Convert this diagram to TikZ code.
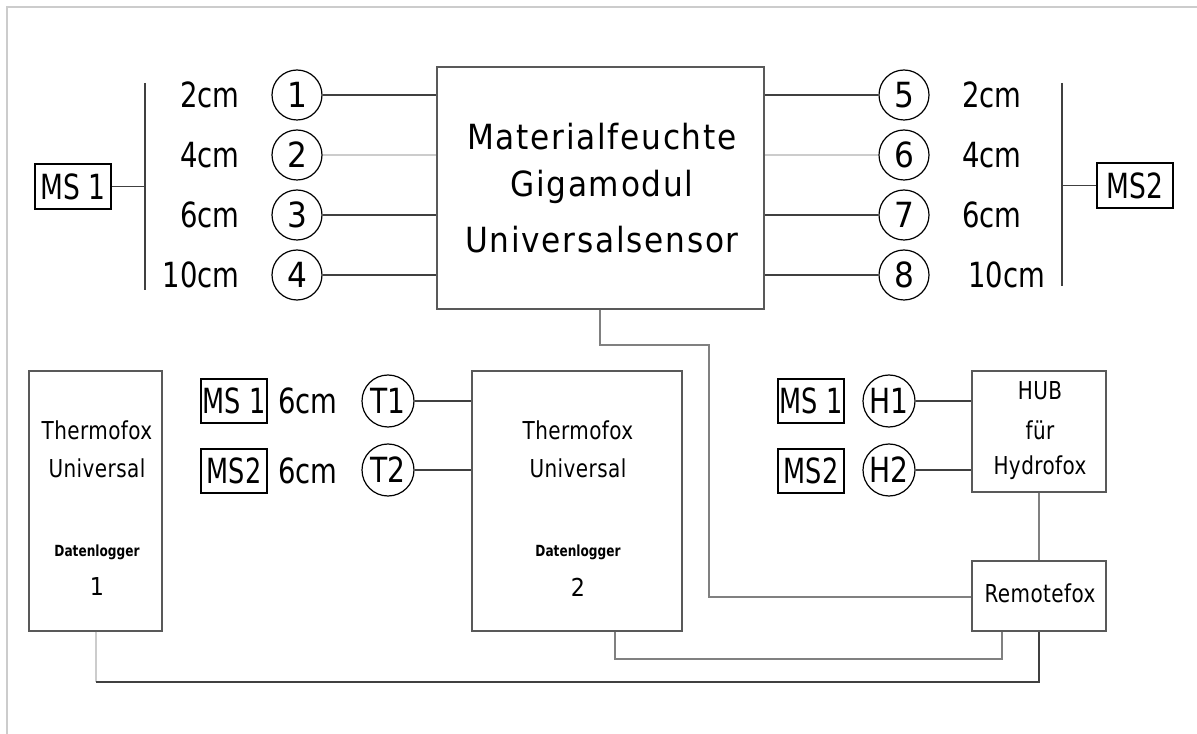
\documentclass[tikz,border=0pt]{standalone}
\usepackage{fontspec}
\usepackage{graphicx}
\setmainfont{DejaVu Sans Condensed}
\newcommand\sq[2][0.85]{\scalebox{#1}[1]{#2}}
\begin{document}
\begin{tikzpicture}[x=0.75pt,y=-0.75pt,
  big/.style={font=\fontsize{26}{30}\selectfont, inner sep=0pt},
  wide/.style={font=\fontsize{26}{30}\selectfont\addfontfeature{LetterSpace=5}, inner sep=0pt},
  mid/.style={font=\fontsize{18.5}{22}\selectfont\addfontfeature{LetterSpace=2}, inner sep=0pt},
  tiny/.style={font=\bfseries\fontsize{11.5}{13}\selectfont, inner sep=0pt},
  num/.style={circle, draw=black, line width=0.9pt, minimum size=37.5pt, inner sep=0pt, font=\fontsize{26}{30}\selectfont},
  tnum/.style={circle, draw=black, line width=0.9pt, minimum size=39pt, inner sep=0pt, font=\fontsize{26}{30}\selectfont},
  msbox/.style={draw=black, line width=1.1pt, minimum width=57pt, minimum height=33.75pt, inner sep=0pt, font=\fontsize{26}{30}\selectfont},
  msboxs/.style={draw=black, line width=1.1pt, minimum width=49.5pt, minimum height=33pt, inner sep=0pt, font=\fontsize{26}{30}\selectfont},
  box/.style={draw=black!65, line width=0.8pt, inner sep=0pt},
  wire/.style={draw=black!75, line width=0.8pt},
  lwire/.style={draw=black!20, line width=0.8pt},
  gwire/.style={draw=black!50, line width=0.8pt}
]
\useasboundingbox (0,0) rectangle (1197,734);
\draw[black!20, line width=0.8pt] (7,734) -- (7,7) -- (1197,7);

% main box
\node[box, minimum width=245.25pt, minimum height=181.5pt] (main) at (600.5,188) {};
\node[wide] (t1) at (602,137) {Materialfeuchte};
\node[wide] (t2) at (602,187) {Gigamodul};
\node[wide] (t3) at (602,240) {Universalsensor};

% left sensors
\node[msbox] (msL) at (73,186.5) {\sq{MS 1}};
\coordinate (busLt) at (145,83);
\coordinate (busLb) at (145,290);
\draw[wire] (busLt) -- (busLb);
\draw[wire] (msL.east) -- (msL.east -| busLt);

\node[num] (c1) at (297,95) {1};
\node[num] (c2) at (297,155) {2};
\node[num] (c3) at (297,215) {3};
\node[num] (c4) at (297,275) {4};
\node[big, anchor=east] (l1) at (240,95) {\sq[0.88]{2cm}};
\node[big, anchor=east] (l2) at (240,155) {\sq[0.88]{4cm}};
\node[big, anchor=east] (l3) at (240,215) {\sq[0.88]{6cm}};
\node[big, anchor=east] (l4) at (240,275) {\sq[0.88]{10cm}};
\draw[wire] (c1) -- (c1 -| main.west);
\draw[lwire] (c2) -- (c2 -| main.west);
\draw[wire] (c3) -- (c3 -| main.west);
\draw[wire] (c4) -- (c4 -| main.west);

% right sensors
\node[msbox] (msR) at (1135,185.5) {\sq{MS2}};
\coordinate (busRt) at (1062,83);
\coordinate (busRb) at (1062,286);
\draw[wire] (busRt) -- (busRb);
\draw[wire] (msR.west) -- (msR.west -| busRt);

\node[num] (c5) at (904,95) {5};
\node[num] (c6) at (904,155) {6};
\node[num] (c7) at (904,215) {7};
\node[num] (c8) at (904,275) {8};
\node[big, anchor=west] (r1) at (962,95) {\sq[0.88]{2cm}};
\node[big, anchor=west] (r2) at (962,155) {\sq[0.88]{4cm}};
\node[big, anchor=west] (r3) at (962,215) {\sq[0.88]{6cm}};
\node[big, anchor=west] (r4) at (968,275) {\sq[0.88]{10cm}};
\draw[wire] (c5) -- (c5 -| main.east);
\draw[lwire] (c6) -- (c6 -| main.east);
\draw[wire] (c7) -- (c7 -| main.east);
\draw[wire] (c8) -- (c8 -| main.east);

% Thermofox 1
\node[box, minimum width=99.75pt, minimum height=195pt] (tf1) at (95.5,501) {};
\node[mid] (tf1a) at (97,430) {\sq[0.9]{Thermofox}};
\node[mid] (tf1b) at (97,468) {\sq[0.9]{Universal}};
\node[tiny] (tf1c) at (97,552) {\sq[0.88]{Datenlogger}};
\node[mid] (tf1d) at (97,587) {1};

% Thermofox 2
\node[box, minimum width=157.5pt, minimum height=195pt] (tf2) at (577,501) {};
\node[mid] (tf2a) at (578,430) {\sq[0.9]{Thermofox}};
\node[mid] (tf2b) at (578,468) {\sq[0.9]{Universal}};
\node[tiny] (tf2c) at (578,552) {\sq[0.88]{Datenlogger}};
\node[mid] (tf2d) at (578,587) {2};

% T sensors
\node[msboxs] (msT1) at (234,401) {\sq[0.82]{MS 1}};
\node[msboxs] (msT2) at (234,471) {\sq[0.82]{MS2}};
\node[big] (d1) at (308,401) {\sq[0.88]{6cm}};
\node[big] (d2) at (308,471) {\sq[0.88]{6cm}};
\node[tnum] (T1) at (388,401) {\sq[0.9]{T1}};
\node[tnum] (T2) at (388,470) {\sq[0.9]{T2}};
\draw[wire] (T1) -- (T1 -| tf2.west);
\draw[wire] (T2) -- (T2 -| tf2.west);

% HUB and Remotefox
\node[box, minimum width=100.5pt, minimum height=90.75pt] (hub) at (1039,431.5) {};
\node[mid] (h1) at (1040,391) {\sq[0.9]{HUB}};
\node[mid] (h2) at (1040,430) {\sq[0.9]{für}};
\node[mid] (h3) at (1040,468) {\sq[0.9]{Hydrofox}};
\node[box, minimum width=100.5pt, minimum height=52.5pt] (rem) at (1039,596) {};
\node[mid] (remt) at (1040,593) {\sq[0.9]{Remotefox}};

\node[msboxs] (msH1) at (811,401) {\sq[0.82]{MS 1}};
\node[msboxs] (msH2) at (811,471) {\sq[0.82]{MS2}};
\node[tnum] (H1) at (889,401) {\sq[0.9]{H1}};
\node[tnum] (H2) at (889,470) {\sq[0.9]{H2}};
\draw[wire] (H1) -- (H1 -| hub.west);
\draw[wire] (H2) -- (H2 -| hub.west);
\draw[gwire] (hub.south) -- (rem.north);

% cabling
\coordinate (m1) at (600,345);
\coordinate (m2) at (709,345);
\coordinate (m3) at (709,597);
\draw[gwire] (main.south -| m1) -- (m1) -- (m2) -- (m3) -- (m3 -| rem.west);

\coordinate (a1) at (615,659);
\coordinate (a2) at (1002,659);
\draw[gwire] (tf2.south -| a1) -- (a1) -- (a2) -- (a2 |- rem.south);

\coordinate (b1) at (96,682);
\coordinate (b2) at (1039,682);
\draw[lwire] (tf1.south -| b1) -- (b1);
\draw[wire] (b1) -- (b2) -- (rem.south);
\end{tikzpicture}
\end{document}
